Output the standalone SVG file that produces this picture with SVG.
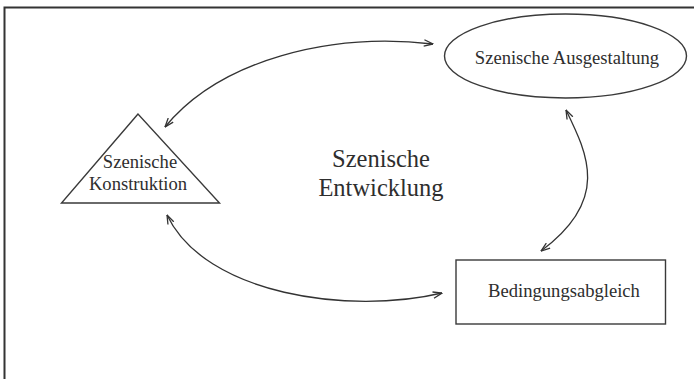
<svg xmlns="http://www.w3.org/2000/svg" width="694" height="379" viewBox="0 0 694 379">
<style>
.shape{fill:#fff;stroke:#3a3a3a;stroke-width:1.4}
.lbl{font-family:"Liberation Serif","Times New Roman",serif;fill:#2e2e2e;text-anchor:middle}
.node{font-size:18.6px}
.big{font-size:24.5px}
.conn{fill:none;stroke:#333;stroke-width:1.3}
</style>
<defs>
<marker id="ah" viewBox="0 0 10 8" refX="9.5" refY="4" markerWidth="10" markerHeight="8" markerUnits="userSpaceOnUse" orient="auto-start-reverse">
<path d="M0.5,0.8 L9.5,4 L0.5,7.2" fill="none" stroke="#333" stroke-width="1.3"/>
</marker>
</defs>
<rect width="694" height="379" fill="#fff"/>
<path d="M4.5,379 V7.5 H694" fill="none" stroke="#333" stroke-width="2"/>
<g id="connectors">
<path class="conn" d="M165,127 C220,60 330,32 433,44" marker-start="url(#ah)" marker-end="url(#ah)"/>
<path class="conn" d="M566,110 C588,155 610,200 541,251" marker-start="url(#ah)" marker-end="url(#ah)"/>
<path class="conn" d="M167,215 C205,295 350,315 442,293" marker-start="url(#ah)" marker-end="url(#ah)"/>
</g>
<g id="ausgestaltung">
<ellipse class="shape" cx="565.5" cy="56" rx="121" ry="42"/>
<text class="lbl node" x="567" y="64">Szenische Ausgestaltung</text>
</g>
<g id="konstruktion">
<polygon class="shape" points="138,114 61.5,203 219.5,203"/>
<text class="lbl node" x="140" y="168">Szenische</text>
<text class="lbl node" x="138" y="190">Konstruktion</text>
</g>
<g id="bedingungsabgleich">
<rect class="shape" x="456" y="260" width="209.5" height="64" stroke-width="2"/>
<text class="lbl node" x="564" y="297">Bedingungsabgleich</text>
</g>
<g id="entwicklung">
<text class="lbl big" x="381" y="167">Szenische</text>
<text class="lbl big" x="381" y="196">Entwicklung</text>
</g>
</svg>
